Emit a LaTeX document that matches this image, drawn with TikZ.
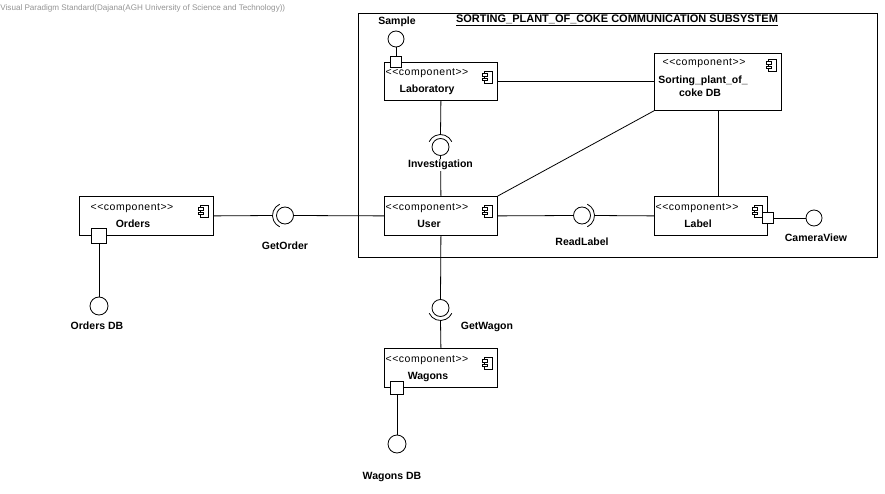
\documentclass[tikz,border=0pt]{standalone}
\usepackage{fontspec}
\newfontfamily\vpfont{Liberation Sans}
\newfontfamily\stereofont{Liberation Sans}[LetterSpace=5]
\usetikzlibrary{calc}

\tikzset{
  compbox/.style={draw, fill=white, anchor=north west, inner sep=0pt, line width=0.8pt},
  stereo/.style={font=\stereofont\fontsize{10.5}{12}\selectfont, inner sep=0pt},
  cname/.style={font=\vpfont\bfseries\fontsize{10.5}{13}\selectfont, inner sep=0pt, align=center},
  lbl/.style={font=\vpfont\bfseries\fontsize{10.5}{13}\selectfont, inner sep=1pt},
  port/.style={draw, fill=white, rectangle, inner sep=0pt, minimum size=#1},
  ball/.style={draw, fill=white, circle, inner sep=0pt, minimum size=#1},
  compicon/.pic={
    \draw[line width=0.7pt, fill=white] (0,0) rectangle (8,12);
    \draw[line width=0.7pt, fill=white] (-2.5,2.5) rectangle (2.5,5);
    \draw[line width=0.7pt, fill=white] (-2.5,7) rectangle (2.5,9.5);
  }
}

\begin{document}
\begin{tikzpicture}[x=1pt, y=-1pt, line width=0.8pt]
\useasboundingbox (0,0) rectangle (885,494);
\fill[white] (0,0) rectangle (885,494);

% tool banner
\node[anchor=west, inner sep=0pt, text=black!42, font=\vpfont\fontsize{8.1}{10}\selectfont]
  (banner) at (0,8) {Visual Paradigm Standard(Dajana(AGH University of Science and Technology))};

% subsystem frame
\draw (358,13) rectangle (877,257);
\node[font=\vpfont\bfseries\fontsize{11}{13}\selectfont, inner sep=0pt] (title) at (617,20)
  {\underline{SORTING\_PLANT\_OF\_COKE COMMUNICATION SUBSYSTEM}};

% ---------- components ----------
\node[compbox, minimum width=113pt, minimum height=38pt] (lab) at (384,62) {};
\node[stereo] at ($(lab.north west)+(43,11)$) {<<component>>};
\node[cname, anchor=base] at ($(lab.north west)+(43,31)$) {Laboratory};
\pic at ($(lab.north east)+(-13,9)$) {compicon};

\node[compbox, minimum width=127pt, minimum height=57pt] (db) at (654,53) {};
\node[stereo] at ($(db.north west)+(50,10)$) {<<component>>};
\node[cname, anchor=base] at ($(db.north west)+(49,31)$) {Sorting\_plant\_of\_};
\node[cname, anchor=base] at ($(db.north west)+(46,44)$) {coke DB};
\pic at ($(db.north east)+(-13,6)$) {compicon};

\node[compbox, minimum width=113pt, minimum height=39pt] (user) at (384,196) {};
\node[stereo] at ($(user.north west)+(43,12)$) {<<component>>};
\node[cname, anchor=base] at ($(user.north west)+(45,31)$) {User};
\pic at ($(user.north east)+(-13,9)$) {compicon};

\node[compbox, minimum width=113pt, minimum height=39pt] (label) at (654,196) {};
\node[stereo] at ($(label.north west)+(43,12)$) {<<component>>};
\node[cname, anchor=base] at ($(label.north west)+(44,31)$) {Label};
\pic at ($(label.north east)+(-13,9)$) {compicon};

\node[compbox, minimum width=134pt, minimum height=39pt] (orders) at (79,196) {};
\node[stereo] at ($(orders.north west)+(53,12)$) {<<component>>};
\node[cname, anchor=base] at ($(orders.north west)+(54,31)$) {Orders};
\pic at ($(orders.north east)+(-13,9)$) {compicon};

\node[compbox, minimum width=113pt, minimum height=39pt] (wagons) at (384,348) {};
\node[stereo] at ($(wagons.north west)+(43,12)$) {<<component>>};
\node[cname, anchor=base] at ($(wagons.north west)+(44,31)$) {Wagons};
\pic at ($(wagons.north east)+(-13,9)$) {compicon};

% ---------- plain associations ----------
\draw (lab.east) -- (lab.east -| db.west);
\draw (user.north east) -- (db.south west);
\draw (db.south) -- (db.south |- label.north);

% ---------- required / provided interfaces ----------
% GetOrder
\node[ball=17pt] (getorder) at (285,215.5) {};
\draw (getorder.center) ++(115:12.5pt) arc[start angle=115, end angle=245, radius=12.5pt];
\coordinate (getorder-s) at ($(getorder.center)+(-12.5,0)$);
\draw (orders.east) -- (getorder-s);
\draw (getorder.east) -- (user.west);
\node[lbl] (getorder-l) at (285,246) {GetOrder};

% ReadLabel
\node[ball=17pt] (readlabel) at (582,215.5) {};
\draw (readlabel.center) ++(-65:12.5pt) arc[start angle=-65, end angle=65, radius=12.5pt];
\coordinate (readlabel-s) at ($(readlabel.center)+(12.5,0)$);
\draw (user.east) -- (readlabel.west);
\draw (readlabel-s) -- (label.west);
\node[lbl] (readlabel-l) at (582,242) {ReadLabel};

% Investigation
\node[ball=17pt] (invest) at (440.5,147) {};
\draw (invest.center) ++(25:12.5pt) arc[start angle=25, end angle=155, radius=12.5pt];
\coordinate (invest-s) at ($(invest.center)+(0,-12.5)$);
\draw (lab.south) -- (invest-s);
\draw (invest.south) -- (user.north);
\node[lbl, fill=white] (invest-l) at (440.5,165) {Investigation};

% GetWagon
\node[ball=17pt] (getwagon) at (440.5,308) {};
\draw (getwagon.center) ++(205:12.5pt) arc[start angle=205, end angle=335, radius=12.5pt];
\coordinate (getwagon-s) at ($(getwagon.center)+(0,12.5)$);
\draw (user.south) -- (getwagon.north);
\draw (getwagon-s) -- (wagons.north);
\node[lbl] (getwagon-l) at (487,327) {GetWagon};

% ---------- ports with provided interfaces ----------
\node[ball=16pt] (sample) at (396,39) {};
\node[port=11pt] (labport) at (396,62) {};
\draw (sample.south) -- (labport.north);
\node[lbl] (sample-l) at (397,22) {Sample};

\node[port=15pt] (ordport) at (99,235.5) {};
\node[ball=18pt] (ordersdb) at (99,306) {};
\draw (ordport.south) -- (ordersdb.north);
\node[lbl] (ordersdb-l) at (97,326) {Orders DB};

\node[port=11pt] (lblport) at (768,218) {};
\node[ball=16pt] (camera) at (814,218) {};
\draw (lblport.east) -- (camera.west);
\node[lbl] (camera-l) at (816,238) {CameraView};

\node[port=13pt] (wagport) at (397,388) {};
\node[ball=18pt] (wagonsdb) at (397,444) {};
\draw (wagport.south) -- (wagonsdb.north);
\node[lbl] (wagonsdb-l) at (392,477) {Wagons DB};

\end{tikzpicture}
\end{document}
